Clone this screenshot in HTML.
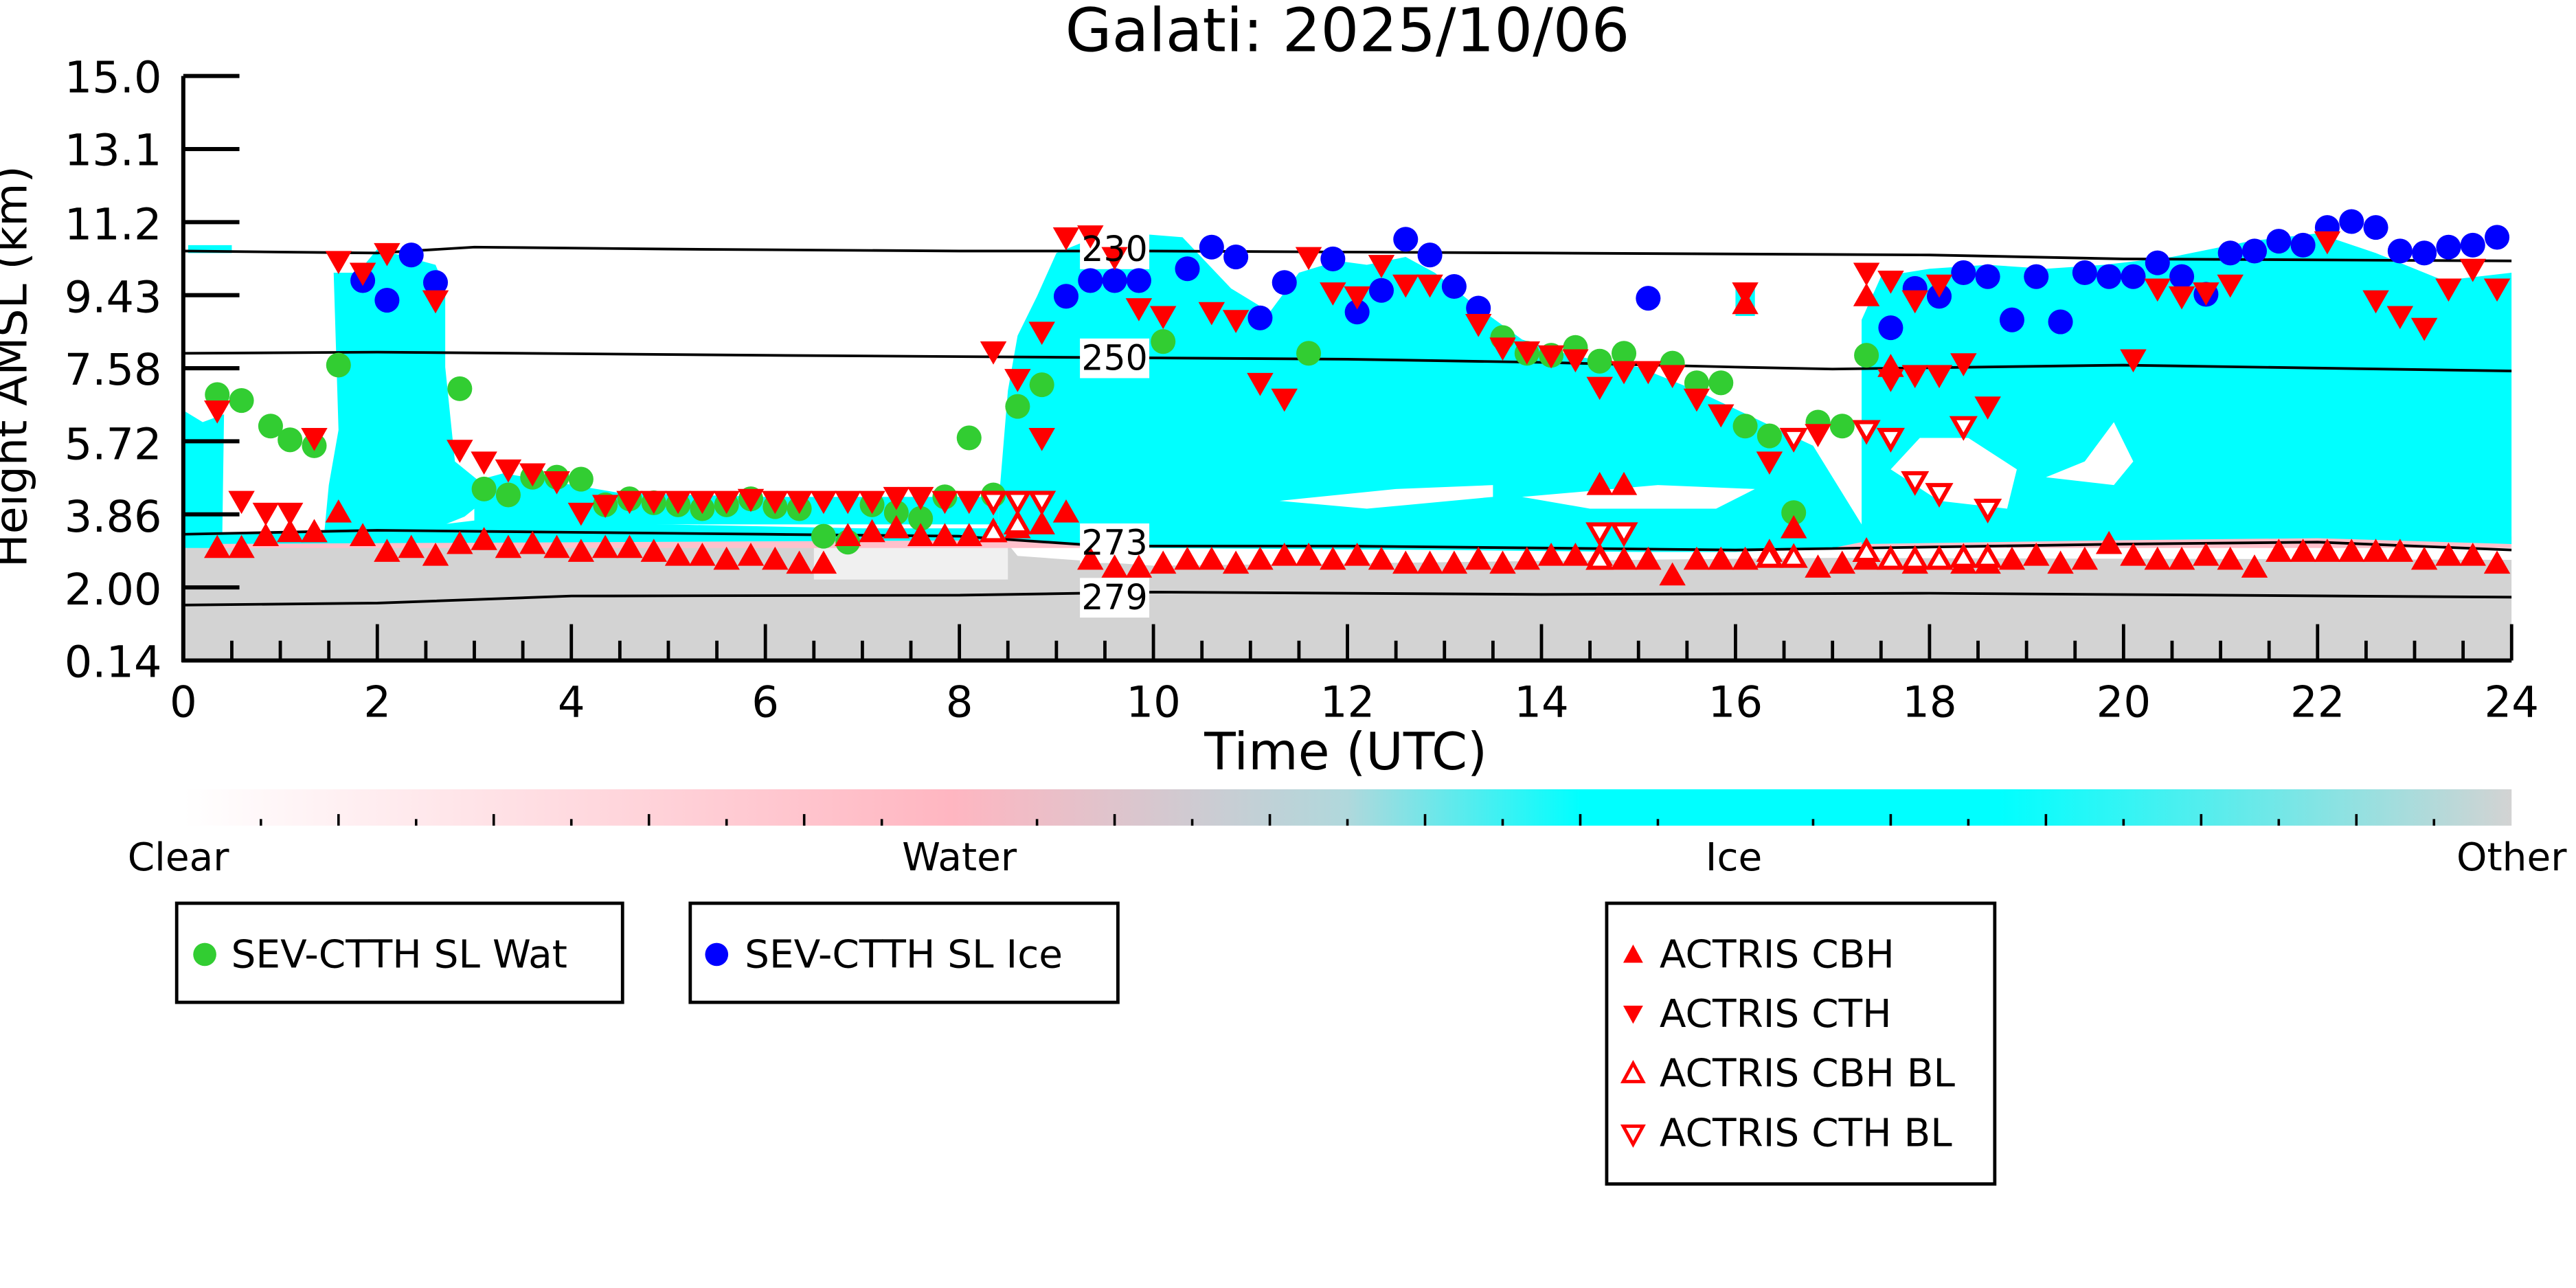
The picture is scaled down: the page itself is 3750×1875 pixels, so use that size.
<!DOCTYPE html>
<html><head><meta charset="utf-8"><style>
html,body{margin:0;padding:0;background:#fff}
svg{display:block}
text{font-family:"DejaVu Sans","Liberation Sans",sans-serif}
</style></head><body>
<svg id="s" width="3750" height="1875" viewBox="0 0 1560 780" xmlns="http://www.w3.org/2000/svg">
<defs>
<linearGradient id="cb" x1="0" x2="1" y1="0" y2="0">
<stop offset="0" stop-color="#ffffff"/>
<stop offset="0.33" stop-color="#ffb6c1"/>
<stop offset="0.5" stop-color="#b0d8dc"/>
<stop offset="0.6" stop-color="#00ffff"/>
<stop offset="0.78" stop-color="#00ffff"/>
<stop offset="1" stop-color="#d3d3d3"/>
</linearGradient>
<clipPath id="pc"><rect x="111" y="46" width="1410" height="354"/></clipPath>
</defs>
<rect width="1560" height="780" fill="#fff"/>
<g id="bg" clip-path="url(#pc)"></g>
<g id="cont" clip-path="url(#pc)"></g>
<g id="mk" clip-path="url(#pc)"></g>
<g id="ax"></g>
<text x="816" y="31" font-size="36.5" text-anchor="middle">Galati: 2025/10/06</text>
<text x="815" y="466" font-size="31" text-anchor="middle">Time (UTC)</text>
<text transform="translate(16,222) rotate(-90)" font-size="27" text-anchor="middle">Height AMSL (km)</text>
<rect x="111" y="478" width="1410" height="22" fill="url(#cb)"/>
<g id="cbt"></g>
<text x="108" y="527" font-size="23.5" text-anchor="middle">Clear</text>
<text x="581" y="527" font-size="23.5" text-anchor="middle">Water</text>
<text x="1050" y="527" font-size="23.5" text-anchor="middle">Ice</text>
<text x="1521" y="527" font-size="23.5" text-anchor="middle">Other</text>
<rect x="107" y="547" width="270" height="60" fill="none" stroke="#000" stroke-width="2"/>
<circle cx="124" cy="578" r="7" fill="#32cd32"/>
<text x="140" y="586" font-size="23.5">SEV-CTTH SL Wat</text>
<rect x="418" y="547" width="259" height="60" fill="none" stroke="#000" stroke-width="2"/>
<circle cx="434" cy="578" r="7" fill="#0000ff"/>
<text x="451" y="586" font-size="23.5">SEV-CTTH SL Ice</text>
<rect x="973" y="547" width="235" height="170" fill="none" stroke="#000" stroke-width="2"/>
<g id="lg"></g>
<text x="1005" y="586" font-size="23.5">ACTRIS CBH</text>
<text x="1005" y="622" font-size="23.5">ACTRIS CTH</text>
<text x="1005" y="658" font-size="23.5">ACTRIS CBH BL</text>
<text x="1005" y="694" font-size="23.5">ACTRIS CTH BL</text>
<g id="tl"></g>
<text x="675" y="158" font-size="21" text-anchor="middle">230</text>
<text x="675" y="224" font-size="21" text-anchor="middle">250</text>
<text x="675" y="336" font-size="21" text-anchor="middle">273</text>
<text x="675" y="369" font-size="21" text-anchor="middle">279</text>
<text x="111" y="434" font-size="26" text-anchor="middle">0</text>
<text x="228.5" y="434" font-size="26" text-anchor="middle">2</text>
<text x="346" y="434" font-size="26" text-anchor="middle">4</text>
<text x="463.5" y="434" font-size="26" text-anchor="middle">6</text>
<text x="581" y="434" font-size="26" text-anchor="middle">8</text>
<text x="698.5" y="434" font-size="26" text-anchor="middle">10</text>
<text x="816" y="434" font-size="26" text-anchor="middle">12</text>
<text x="933.5" y="434" font-size="26" text-anchor="middle">14</text>
<text x="1051" y="434" font-size="26" text-anchor="middle">16</text>
<text x="1168.5" y="434" font-size="26" text-anchor="middle">18</text>
<text x="1286" y="434" font-size="26" text-anchor="middle">20</text>
<text x="1403.5" y="434" font-size="26" text-anchor="middle">22</text>
<text x="1521" y="434" font-size="26" text-anchor="middle">24</text>
<text x="98" y="56" font-size="26.5" text-anchor="end">15.0</text>
<text x="98" y="100" font-size="26.5" text-anchor="end">13.1</text>
<text x="98" y="145" font-size="26.5" text-anchor="end">11.2</text>
<text x="98" y="189" font-size="26.5" text-anchor="end">9.43</text>
<text x="98" y="233" font-size="26.5" text-anchor="end">7.58</text>
<text x="98" y="278" font-size="26.5" text-anchor="end">5.72</text>
<text x="98" y="322" font-size="26.5" text-anchor="end">3.86</text>
<text x="98" y="366" font-size="26.5" text-anchor="end">2.00</text>
<text x="98" y="410" font-size="26.5" text-anchor="end">0.14</text>
<script>
var NS="http://www.w3.org/2000/svg";
function X(t){return 111+t*58.75}
function Y(h){return 400-(h-0.14)*23.82}
function el(p,n,a){var e=document.createElementNS(NS,n);for(var k in a)e.setAttribute(k,a[k]);document.getElementById(p).appendChild(e);return e}
function poly(p,pts,fill){el(p,"polygon",{points:pts.map(function(q){return X(q[0])+","+Y(q[1])}).join(" "),fill:fill})}
// background
poly("bg",[[0,0],[24,0],[24,2.7],[17,2.75],[15,2.7],[10,2.55],[8.6,2.8],[8.5,3.1],[6.5,3.1],[3,3.05],[0,3.0]],"#d3d3d3");
poly("bg",[[6.5,2.2],[8.5,2.2],[8.5,3.1],[6.5,3.1]],"#f0f0f0");
poly("bg",[[0,3.0],[24,3.0],[24,3.3],[0,3.4]],"#ffc0cb");
// cyan
poly("bg",[[0,3.0],[0.4,3.0],[0.42,6.4],[0.2,6.2],[0,6.5]],"#00ffff");
poly("bg",[[1.45,3.3],[1.7,3.2],[2.4,3.3],[2.9,3.8],[3.2,4.4],[2.8,5.2],[2.7,7.6],[2.7,9.6],[2.6,10.2],[2.3,10.4],[2.0,10.6],[1.8,10.0],[1.55,10.0],[1.6,6.0],[1.5,4.6]],"#00ffff");
poly("bg",[[0,3.1],[8.6,3.2],[8.6,3.5],[7,3.5],[5,3.6],[3,3.7],[2,3.4],[0,3.4]],"#00ffff");
poly("bg",[[3,3.6],[8.4,3.6],[8.4,4.3],[6,4.3],[4.5,4.4],[3.3,4.9],[3,4.7]],"#00ffff");
poly("bg",[[8.4,3.2],[10,3.0],[13,2.95],[15,2.9],[16,2.9],[17,3.0],[17.4,3.2],[17.2,4.0],[16.8,5.6],[16.2,6.3],[15.6,7.0],[15.0,7.6],[14.3,7.9],[13.8,8.3],[13.3,9.2],[12.9,10.0],[12.6,10.4],[12.2,10.2],[11.9,10.3],[11.5,10.0],[11.2,9.0],[10.8,9.6],[10.3,10.9],[9.8,11.0],[9.4,10.9],[9.0,10.5],[8.8,9.4],[8.6,8.4],[8.5,7.0],[8.4,4.0]],"#00ffff");
poly("bg",[[11.3,4.2],[12.5,4.5],[13.5,4.6],[13.5,4.3],[12.2,4.0]],"#ffffff");
poly("bg",[[13.8,4.3],[15.2,4.6],[16.2,4.5],[15.8,4.0],[14.5,4.0]],"#ffffff");
poly("bg",[[17.3,3.1],[20,3.2],[22,3.25],[24,3.1],[24,10.0],[23.3,9.8],[22.6,10.5],[22.0,11.0],[21.3,10.8],[20.5,10.4],[19.8,10.2],[19.2,10.1],[18.6,10.2],[18.0,10.1],[17.5,9.9],[17.3,8.8]],"#00ffff");
poly("bg",[[17.6,5.0],[18.1,4.2],[18.8,4.0],[18.9,5.0],[18.4,5.8],[17.9,5.8]],"#ffffff");
poly("bg",[[19.2,4.8],[19.6,5.2],[19.9,6.2],[20.1,5.2],[19.9,4.6]],"#ffffff");
poly("bg",[[16.0,9.6],[16.2,9.6],[16.2,8.9],[16.0,8.9]],"#00ffff");
poly("bg",[[0.05,10.7],[0.5,10.7],[0.5,10.5],[0.05,10.5]],"#00ffff");
// contours
function line(pts){el("cont","polyline",{points:pts.map(function(q){return X(q[0])+","+Y(q[1])}).join(" "),fill:"none",stroke:"#000","stroke-width":1.6})}
line([[0,10.55],[2,10.5],[3,10.65],[5,10.6],[8,10.55],[10,10.55],[14,10.5],[18,10.45],[20,10.35],[24,10.3]]);
line([[0,7.95],[2,7.98],[6,7.9],[9,7.85],[12,7.8],[14,7.72],[16,7.6],[17,7.55],[20,7.65],[24,7.5]]);
line([[0,3.35],[2,3.45],[4,3.4],[6,3.35],[8,3.3],[9.5,3.05],[12,3.05],[16,2.95],[20,3.1],[22,3.15],[24,2.95]]);
line([[0,1.55],[2,1.6],[4,1.78],[8,1.8],[10,1.88],[14,1.82],[18,1.85],[24,1.75]]);
[[158],[224],[336],[369]].forEach(function(v){el("cont","rect",{x:654,y:v[0]-19,width:42,height:24,fill:"#fff"})});
// markers
function circ(t,h,c){el("mk","circle",{cx:X(t),cy:Y(h),r:7.5,fill:c})}
function tri(t,h,up,hollow,g){var s=hollow?0.8:1;var x=X(t),y=Y(h),p=up?[[x,y-8*s],[x-8*s,y+6*s],[x+8*s,y+6*s]]:[[x,y+8*s],[x-8*s,y-6*s],[x+8*s,y-6*s]];
el(g||"mk","polygon",{points:p.map(function(q){return q.join(",")}).join(" "),fill:hollow?"#fff":"#f00",stroke:"#f00","stroke-width":hollow?2.5:0})}
var G=[[0.35,6.9],[0.6,6.75],[0.9,6.1],[1.1,5.75],[1.35,5.6],[1.6,7.65],[2.85,7.05],[3.1,4.5],[3.35,4.35],[3.6,4.8],[3.85,4.8],[4.1,4.75],[4.35,4.1],[4.6,4.25],[4.85,4.15],[5.1,4.1],[5.35,4.0],[5.6,4.1],[5.85,4.25],[6.1,4.05],[6.35,4.0],[6.6,3.3],[6.85,3.15],[7.1,4.1],[7.35,3.9],[7.6,3.75],[7.85,4.3],[8.1,5.8],[8.35,4.35],[8.6,6.6],[8.85,7.15],[10.1,8.25],[11.6,7.95],[13.6,8.35],[13.85,7.95],[14.1,7.9],[14.35,8.1],[14.6,7.75],[14.85,7.95],[15.35,7.7],[15.6,7.2],[15.85,7.2],[16.1,6.1],[16.35,5.85],[16.6,3.9],[16.85,6.2],[17.1,6.1],[17.35,7.9]];
var B=[[1.85,9.8],[2.1,9.3],[2.35,10.45],[2.6,9.75],[9.1,9.4],[9.35,9.8],[9.6,9.8],[9.85,9.8],[10.35,10.1],[10.6,10.65],[10.85,10.4],[11.1,8.85],[11.35,9.75],[11.85,10.35],[12.1,9.0],[12.35,9.55],[12.6,10.85],[12.85,10.45],[13.1,9.65],[13.35,9.1],[15.1,9.35],[17.6,8.6],[17.85,9.6],[18.1,9.4],[18.35,10.0],[18.6,9.9],[18.85,8.8],[19.1,9.9],[19.35,8.75],[19.6,10.0],[19.85,9.9],[20.1,9.9],[20.35,10.25],[20.6,9.9],[20.85,9.45],[21.1,10.5],[21.35,10.55],[21.6,10.8],[21.85,10.7],[22.1,11.15],[22.35,11.3],[22.6,11.15],[22.85,10.55],[23.1,10.5],[23.35,10.65],[23.6,10.7],[23.85,10.9]];
var CTH=[[0.35,6.5],[0.6,4.2],[0.85,3.9],[1.1,3.9],[1.35,5.8],[1.6,10.3],[1.85,10.0],[2.1,10.5],[2.6,9.3],[2.85,5.5],[3.1,5.2],[3.35,5.0],[3.6,4.9],[3.85,4.7],[4.1,3.9],[4.35,4.1],[4.6,4.2],[4.85,4.2],[5.1,4.2],[5.35,4.2],[5.6,4.2],[5.85,4.25],[6.1,4.2],[6.35,4.2],[6.6,4.2],[6.85,4.2],[7.1,4.2],[7.35,4.3],[7.6,4.3],[7.85,4.2],[8.1,4.2],[8.35,8.0],[8.6,7.3],[8.85,5.8],[8.85,8.5],[9.1,10.9],[9.35,10.95],[9.6,10.4],[9.85,9.1],[10.1,8.9],[10.6,9.0],[10.85,8.8],[11.1,7.2],[11.35,6.8],[11.6,10.4],[11.85,9.5],[12.1,9.4],[12.35,10.2],[12.6,9.7],[12.85,9.7],[13.35,8.7],[13.6,8.1],[13.85,8.0],[14.1,7.9],[14.35,7.8],[14.6,7.1],[14.85,7.5],[15.1,7.5],[15.35,7.4],[15.6,6.8],[15.85,6.4],[16.1,9.5],[16.35,5.2],[16.6,5.8],[16.85,5.9],[17.35,10.0],[17.6,9.8],[17.6,7.3],[17.85,9.3],[17.85,7.4],[18.1,9.7],[18.1,7.4],[18.35,7.7],[18.6,6.6],[20.1,7.8],[20.35,9.6],[20.6,9.4],[20.85,9.5],[21.1,9.7],[22.1,10.8],[22.6,9.3],[22.85,8.9],[23.1,8.6],[23.35,9.6],[23.6,10.1],[23.85,9.6]];
var cbhH=[3.0,3.0,3.3,3.4,3.4,3.9,3.3,2.9,3.0,2.8,3.1,3.2,3.0,3.1,3.0,2.9,3.0,3.0,2.9,2.8,2.8,2.7,2.8,2.7,2.6,2.6,3.3,3.4,3.5,3.3,3.3,3.3,3.4,3.5,3.6,3.9,2.7,2.5,2.5,2.6,2.7,2.7,2.6,2.7,2.8,2.8,2.7,2.8,2.7,2.6,2.6,2.6,2.7,2.6,2.7,2.8,2.8,2.8,2.7,2.7,2.3,2.7,2.7,2.7,2.9,3.5,2.5,2.6,2.7,2.7,2.6,2.7,2.6,2.6,2.7,2.8,2.6,2.7,3.1,2.8,2.7,2.7,2.8,2.7,2.5,2.9,2.9,2.9,2.9,2.9,2.9,2.7,2.8,2.8,2.6,2.7];
G.forEach(function(p){circ(p[0],p[1],"#32cd32")});
B.forEach(function(p){circ(p[0],p[1],"#0000ff")});
cbhH.forEach(function(h,i){var t=0.35+i*0.25;if(t<24)tri(t,h,true,false)});
tri(1.35,3.4,true,false);tri(14.6,4.6,true,false);tri(14.85,4.6,true,false);tri(16.1,9.2,true,false);tri(17.35,9.4,true,false);tri(17.6,7.6,true,false);
CTH.forEach(function(p){tri(p[0],p[1],false,false)});
[[8.35,4.2],[8.6,4.2],[8.85,4.2],[14.6,3.4],[14.85,3.4],[16.6,5.8],[17.35,6.0],[17.6,5.8],[17.85,4.7],[18.1,4.4],[18.35,6.1],[18.6,4.0]].forEach(function(p){tri(p[0],p[1],false,true)});
[[8.6,3.6],[8.35,3.4],[14.6,2.7],[16.35,2.75],[16.6,2.75],[17.35,2.9],[17.6,2.7],[17.85,2.7],[18.1,2.7],[18.35,2.75],[18.6,2.75]].forEach(function(p){tri(p[0],p[1],true,true)});
// axes
el("ax","line",{x1:111,y1:46,x2:111,y2:401,stroke:"#000","stroke-width":2.5});
el("ax","line",{x1:110,y1:400,x2:1521,y2:400,stroke:"#000","stroke-width":2.5});
for(var i=0;i<9;i++){var y=46+i*44.25;el("ax","line",{x1:111,y1:y,x2:145,y2:y,stroke:"#000","stroke-width":2.5})}
for(var k=0;k<=48;k++){var x=111+k*29.375;var L=(k%4==0)?22:12;el("ax","line",{x1:x,y1:400,x2:x,y2:400-L,stroke:"#000","stroke-width":2})}
for(var k=0;k<=30;k++){var x=111+k*47;var L=(k%10==0)?0:((k%2==0)?7:4);if(L)el("cbt","line",{x1:x,y1:500,x2:x,y2:500-L,stroke:"#000","stroke-width":1.5})}
function ltri(x,y,up,hollow){var p=up?[[x,y-6],[x-6,y+5],[x+6,y+5]]:[[x,y+6],[x-6,y-5],[x+6,y-5]];el("lg","polygon",{points:p.map(function(q){return q.join(",")}).join(" "),fill:hollow?"#fff":"#f00",stroke:"#f00","stroke-width":hollow?2:0})}
ltri(989,578,true,false);ltri(989,614,false,false);ltri(989,650,true,true);ltri(989,687,false,true);
</script>
</svg>
</body></html>
